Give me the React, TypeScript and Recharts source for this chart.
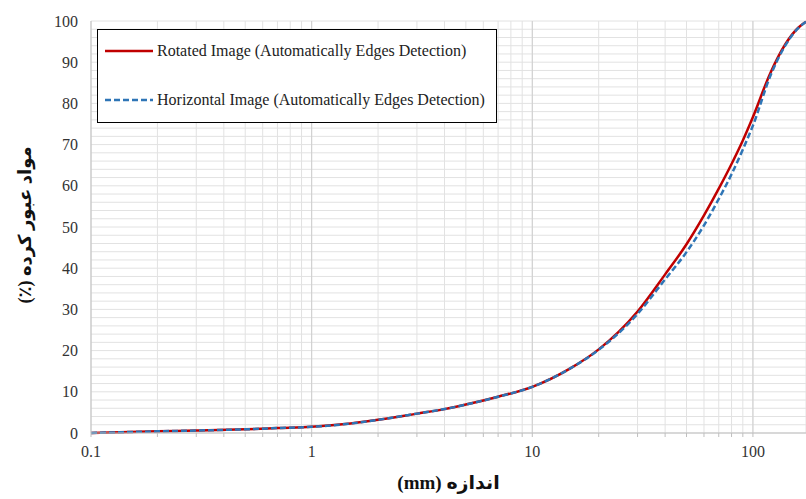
import React from 'react';
import { LineChart, Line, XAxis, YAxis, CartesianGrid, Legend, Label, ReferenceLine } from 'recharts';

// particle size (mm) and percent passing
const sizes = [0.1, 0.2, 0.3, 0.5, 0.7, 1, 1.5, 2, 3, 4, 5, 7, 10, 15, 20, 30, 40, 50, 60, 70, 80, 90, 100, 120, 140, 160, 174];
const rotated = [0, 0.4, 0.6, 0.9, 1.2, 1.5, 2.3, 3.2, 4.7, 5.8, 6.9, 8.8, 11.2, 15.8, 20.3, 29.5, 38.5, 45.8, 52.8, 59.3, 65.3, 71, 76.7, 87.4, 94.3, 98.3, 99.8];
const horizontal = [0, 0.4, 0.6, 0.9, 1.2, 1.5, 2.3, 3.2, 4.7, 5.8, 6.9, 8.8, 11.2, 15.8, 20.2, 28.9, 37.3, 43.9, 50.4, 56.8, 62.8, 68.8, 74.6, 86.7, 94.0, 98.2, 99.8];

const xMajor = [0.1, 1, 10, 100];
const xMax = 174;
const yMajor = [0, 10, 20, 30, 40, 50, 60, 70, 80, 90, 100];
const yStep = 2;

const seriesNames = [
  'Rotated Image (Automatically Edges Detection)',
  'Horizontal Image (Automatically Edges Detection)',
];

const data = sizes.map((s, i) => ({ size: s, rotated: rotated[i], horizontal: horizontal[i] }));

const xTicks: number[] = [];
xMajor.forEach((d) => {
  for (let k = 1; k <= 9; k++) {
    if (k * d <= xMax) xTicks.push(k * d);
  }
});
const yTicks: number[] = [];
for (let v = 0; v <= 100; v += yStep) yTicks.push(v);

const FONT = '"Liberation Serif", "Times New Roman", serif';

const XTick = (props: any) => {
  const { x, y, payload } = props;
  const v = payload.value;
  if (!xMajor.some((m) => Math.abs(m - v) < 1e-9)) return null;
  return (
    <text x={x} y={y + 18} textAnchor="middle" fontFamily={FONT} fontSize={16} fill="#333">
      {String(v)}
    </text>
  );
};

const YTick = (props: any) => {
  const { x, y, payload } = props;
  if (!yMajor.includes(payload.value)) return null;
  return (
    <text x={x - 13} y={y} dy="0.35em" textAnchor="end" fontFamily={FONT} fontSize={16} fill="#333">
      {payload.value}
    </text>
  );
};

const LegendBox = () => (
  <div
    style={{
      width: 398,
      height: 92,
      border: '1px solid #000',
      background: '#fff',
      fontFamily: FONT,
      fontSize: 16,
      color: '#222',
      position: 'relative',
    }}
  >
    {seriesNames.map((n, i) => (
      <div
        key={n}
        style={{ position: 'absolute', left: 7, top: i === 0 ? 12 : 61, display: 'flex', alignItems: 'center', whiteSpace: 'nowrap' }}
      >
        <svg width={50} height={6} style={{ marginRight: 2 }}>
          <line
            x1={0}
            y1={3}
            x2={48}
            y2={3}
            stroke={i === 0 ? '#c00000' : '#2e75b6'}
            strokeWidth={2.5}
            strokeDasharray={i === 0 ? undefined : '6 3'}
          />
        </svg>
        <span>{n}</span>
      </div>
    ))}
  </div>
);

export default function App() {
  return (
    <div style={{ position: 'absolute', left: 0, top: 0, width: 806, height: 499, background: '#fff' }}>
      <LineChart width={806} height={499} data={data} margin={{ top: 21, right: 0, bottom: 0, left: 0 }}>
        <CartesianGrid stroke="#e2e2e2" strokeWidth={1} />
        {xMajor.slice(1).map((m) => (
          <ReferenceLine key={m} x={m} stroke="#cfcfcf" strokeWidth={1} />
        ))}
        <XAxis
          dataKey="size"
          type="number"
          scale="log"
          domain={[0.1, xMax]}
          allowDataOverflow
          ticks={xTicks}
          interval={0}
          height={66}
          tick={<XTick />}
          tickSize={4}
          tickLine={{ stroke: '#bfbfbf' }}
          axisLine={{ stroke: '#bfbfbf' }}
        >
          <Label
            value="(mm) اندازه"
            position="insideBottom"
            offset={10}
            style={{ fontFamily: '"Liberation Serif", "DejaVu Sans", serif', fontWeight: 'bold', fontSize: 19, fill: '#111' }}
          />
        </XAxis>
        <YAxis
          type="number"
          domain={[0, 100]}
          ticks={yTicks}
          interval={0}
          width={91}
          tick={<YTick />}
          tickSize={0}
          tickMargin={0}
          tickLine={false}
          axisLine={{ stroke: '#bfbfbf' }}
        >
          <Label
            content={() => (
              <text
                x={25}
                y={225}
                transform="rotate(-90 25 225)"
                textAnchor="middle"
                dominantBaseline="central"
                fontFamily='"Liberation Serif", "DejaVu Sans", serif'
                fontWeight="bold"
                fontSize={18}
                fill="#111"
              >
                (٪) مواد عبور کرده
              </text>
            )}
          />
        </YAxis>
        <Legend
          layout="vertical"
          align="center"
          verticalAlign="middle"
          content={<LegendBox />}
          wrapperStyle={{ position: 'absolute', left: 97, top: 29, width: 400, height: 94 }}
        />
        <Line
          dataKey="rotated"
          name={seriesNames[0]}
          type="monotone"
          stroke="#c00000"
          strokeWidth={2.5}
          dot={false}
          isAnimationActive={false}
        />
        <Line
          dataKey="horizontal"
          name={seriesNames[1]}
          type="monotone"
          stroke="#2e75b6"
          strokeWidth={2.5}
          strokeDasharray="6 3"
          dot={false}
          isAnimationActive={false}
        />
      </LineChart>
    </div>
  );
}
